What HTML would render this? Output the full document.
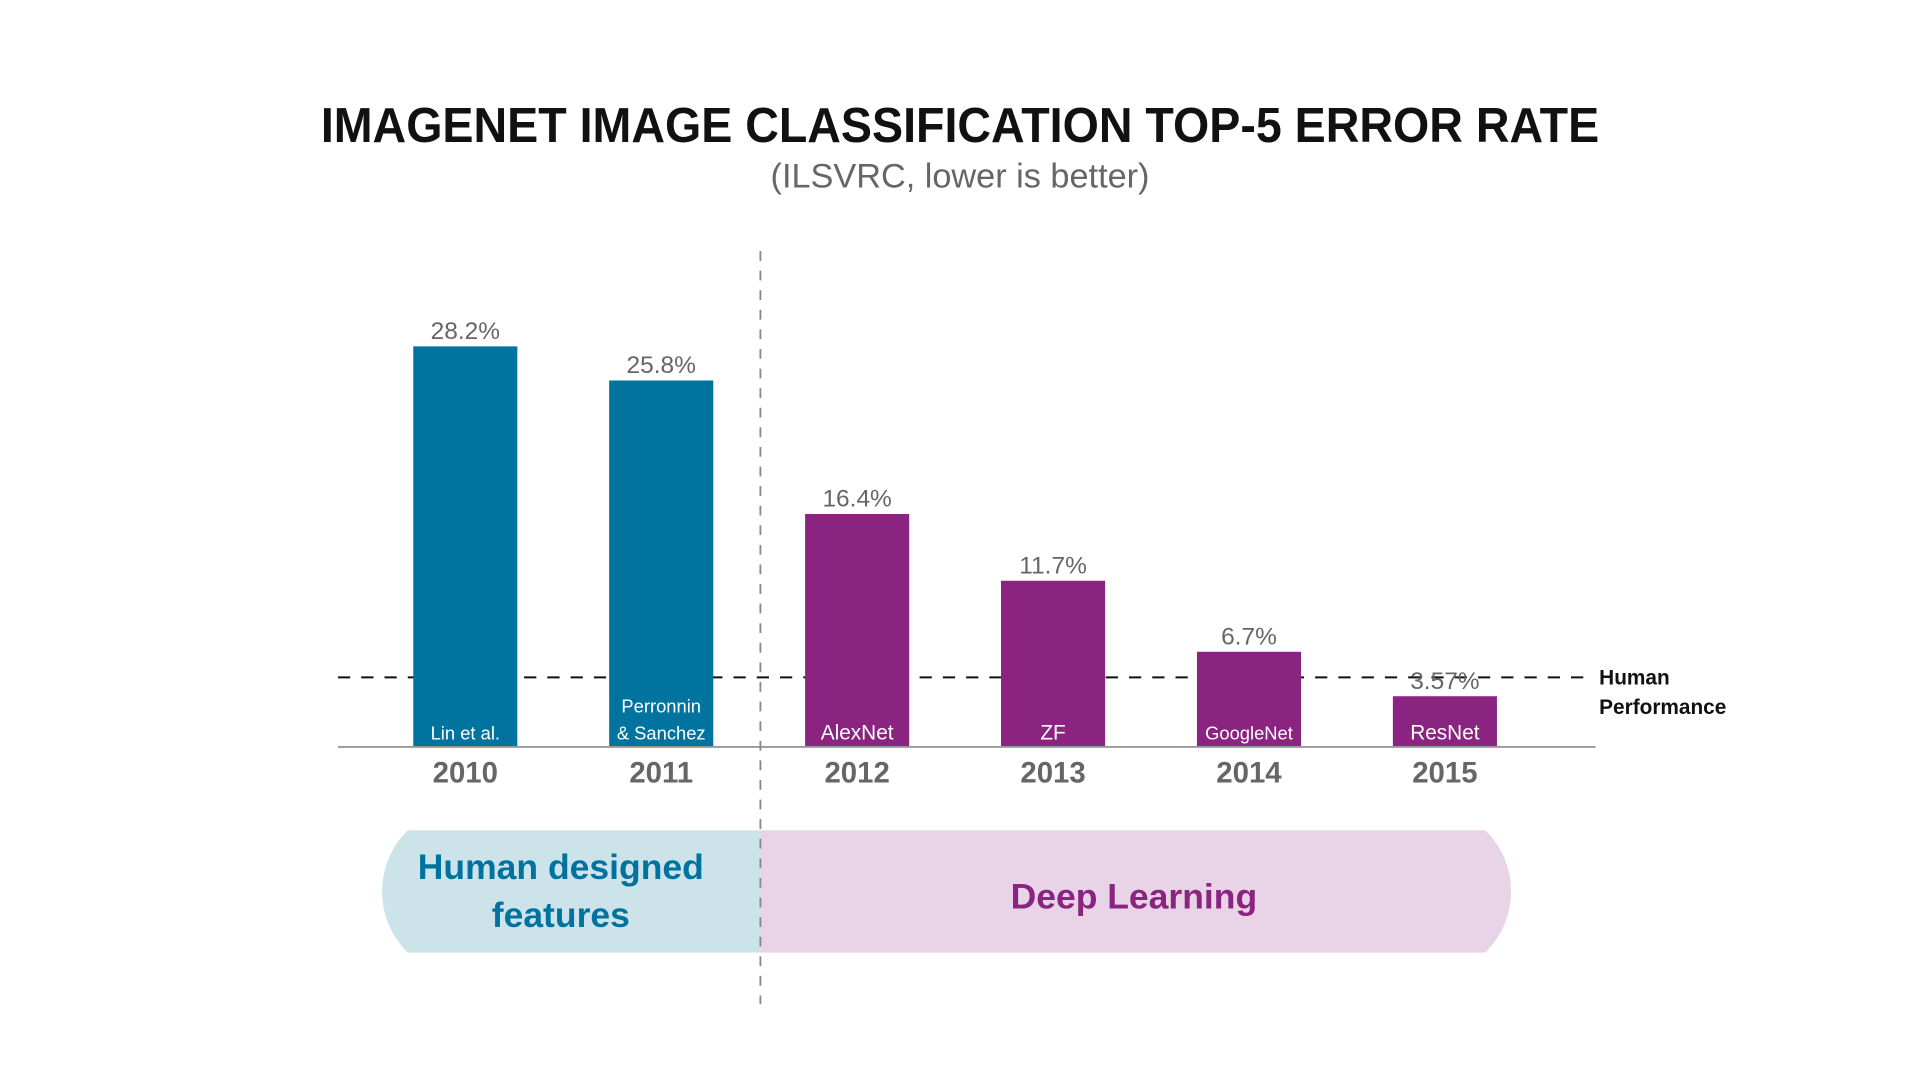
<!DOCTYPE html>
<html><head><meta charset="utf-8"><style>
html,body{margin:0;padding:0;background:#fff;width:1920px;height:1080px;overflow:hidden}
svg{display:block;font-family:"Liberation Sans",sans-serif}
</style></head><body>
<svg id="chart" width="1920" height="1080" viewBox="0 0 1568 882">
<text x="784" y="116" text-anchor="middle" font-size="40" font-weight="bold" fill="#111" textLength="1044" lengthAdjust="spacingAndGlyphs">IMAGENET IMAGE CLASSIFICATION TOP-5 ERROR RATE</text>
<text x="784" y="153" text-anchor="middle" font-size="28" fill="#666">(ILSVRC, lower is better)</text>
<g id="pills">
<path d="M621 678 L333 678 A70 70 0 0 0 333 778 L621 778 Z" fill="#cde3ea"/>
<path d="M621 678 L1213 678 A70 70 0 0 1 1213 778 L621 778 Z" fill="#e8d3e7"/>
<text x="458" y="718" text-anchor="middle" font-size="29" font-weight="bold" fill="#0072a0">Human designed</text>
<text x="458" y="757" text-anchor="middle" font-size="29" font-weight="bold" fill="#0072a0">features</text>
<text x="926" y="742" text-anchor="middle" font-size="29" font-weight="bold" fill="#8b2481">Deep Learning</text>
</g>
<g id="plot"></g>
<line x1="621" y1="205" x2="621" y2="820" stroke="#888" stroke-width="1.5" stroke-dasharray="8,8"/>
<text x="1306" y="559" font-size="17" font-weight="bold" fill="#111">Human</text>
<text x="1306" y="583" font-size="17" font-weight="bold" fill="#111">Performance</text>
</svg>
<script>
const years = ["2010","2011","2012","2013","2014","2015"];
const errorRates = [28.2, 25.8, 16.4, 11.7, 6.7, 3.57];
const valueLabels = ["28.2%","25.8%","16.4%","11.7%","6.7%","3.57%"];
const modelNames = [["Lin et al."],["Perronnin","& Sanchez"],["AlexNet"],["ZF"],["GoogleNet"],["ResNet"]];
const humanPerformance = 4.9;

const NS = "http://www.w3.org/2000/svg";
const g = document.getElementById("plot");
const baseY = 610, pxPer = 11.6, x0 = 380, step = 160, bw = 85;
const yScale = v => baseY - v * pxPer;
const xScale = i => x0 + i * step;
function mk(tag, attrs, txt){const e=document.createElementNS(NS,tag);for(const k in attrs)e.setAttribute(k,attrs[k]);if(txt!==undefined)e.textContent=txt;g.appendChild(e);return e;}

const hl = mk("line",{x1:276,x2:1300,y1:yScale(humanPerformance),y2:yScale(humanPerformance),stroke:"#111","stroke-width":1.6,"stroke-dasharray":"10,9"});



years.forEach((yr,i)=>{
  const cx = xScale(i), top = yScale(errorRates[i]);
  const col = i < 2 ? "#00739f" : "#8b2481";
  const r = mk("rect",{x:cx-bw/2,y:top,width:bw,height:baseY-top,fill:col});
  
  
  const v = mk("text",{x:cx,y:top-6,"text-anchor":"middle","font-size":20,fill:"#666"},valueLabels[i]);
  
  
  const names = modelNames[i];
  names.forEach((n,j)=>{
    const ty = 604 - (names.length-1-j)*22;
    const t = mk("text",{x:cx,y:ty,"text-anchor":"middle","font-size":names.length>1||n.length>8?15:17,fill:"#fff"},n);
    
    
  });
  const yl = mk("text",{x:cx,y:639,"text-anchor":"middle","font-size":24,"font-weight":"bold",fill:"#666"},yr);
  
  
});
const ax = mk("line",{x1:276,x2:1303,y1:baseY,y2:baseY,stroke:"#999","stroke-width":1.5});


</script>
</body></html>
